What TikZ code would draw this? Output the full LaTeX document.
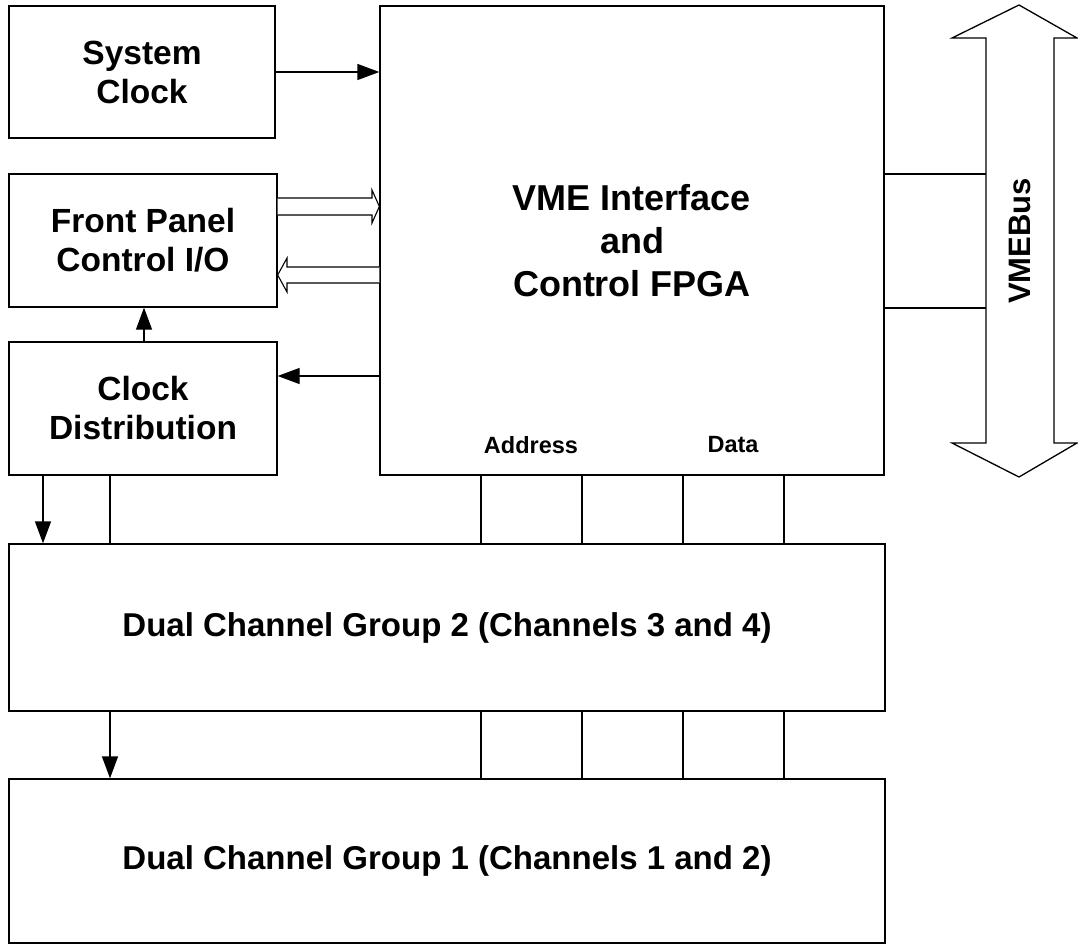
\documentclass[tikz,border=0pt]{standalone}
\usepackage{fontspec}
\setmainfont{Liberation Sans}
\usetikzlibrary{arrows.meta,calc}
\begin{document}
\begin{tikzpicture}[x=1pt,y=-1pt,
  box/.style={draw,line width=1.3pt,inner sep=0pt,align=center,
    font=\fontsize{33.5}{39}\selectfont\bfseries},
  big/.style={font=\fontsize{36}{43}\selectfont\bfseries},
  grp/.style={font=\fontsize{33}{39}\selectfont\bfseries},
  lbl/.style={font=\fontsize{31}{39}\selectfont\bfseries,inner sep=0pt},
  small/.style={font=\fontsize{23.5}{28}\selectfont\bfseries,inner sep=0pt},
  ln/.style={line width=1.3pt},
  arr/.style={line width=1.3pt,-{Triangle[length=22pt,width=16pt]}},
  hollow/.style={line width=1.1pt,fill=white,line join=miter}]
\useasboundingbox (0,0) rectangle (1078,944);
\node[box,minimum width=266pt,minimum height=132pt] (sc) at (142,72) {System\\Clock};
\node[box,minimum width=268pt,minimum height=133pt] (fp) at (143,240.5) {Front Panel\\Control I/O};
\node[box,minimum width=268pt,minimum height=133pt] (cd) at (143,408.5) {Clock\\Distribution};
\node[box,big,minimum width=504pt,minimum height=469pt] (fpga) at (632,240.5) {VME Interface\\and\\Control FPGA};
\node[box,grp,minimum width=876pt,minimum height=167pt] (g2) at (447,627.5) {Dual Channel Group 2 (Channels 3 and 4)};
\node[box,grp,minimum width=876pt,minimum height=164pt] (g1) at (447,861) {Dual Channel Group 1 (Channels 1 and 2)};
\node[small] (addr) at (531,445) {Address};
\node[small] (data) at (733,445) {Data};
% VMEBus double arrow
\draw[ln,line join=miter] (1019,5) -- (1077,38) -- (1054,38) -- (1054,443) -- (1077,443) -- (1019,477)
  -- (952,443) -- (986,443) -- (986,38) -- (952,38) -- cycle;
\node[lbl,rotate=90] (vme) at (1020,241) {VMEBus};
\coordinate (busl) at (986,0);
\coordinate (bt) at (0,174);
\coordinate (bb) at (0,308);
\draw[ln] (fpga.east |- bt) -- (busl |- bt);
\draw[ln] (fpga.east |- bb) -- (busl |- bb);
% arrows
\draw[arr] (sc.east) -- (fpga.west |- sc.east);
\coordinate (cdu) at (144,0);
\draw[arr] (cdu |- cd.north) -- (cdu |- fp.south);
\coordinate (y376) at (0,376);
\draw[arr] (fpga.west |- y376) -- (cd.east |- y376);
\coordinate (xa) at (43,0);
\coordinate (xb) at (110,0);
\draw[arr] (xa |- cd.south) -- (xa |- g2.north);
\draw[ln] (xb |- cd.south) -- (xb |- g2.north);
\draw[arr] (xb |- g2.south) -- (xb |- g1.north);
% hollow arrows
\draw[hollow] (fp.east |- 0,198) -- (372,198) -- (372,190) -- (fpga.west |- 0,206.5) -- (372,223) -- (372,215) -- (fp.east |- 0,215);
\draw[hollow] (fpga.west |- 0,267) -- (287,267) -- (287,258) -- (fp.east |- 0,275) -- (287,292) -- (287,283) -- (fpga.west |- 0,283);
% address/data bus lines
\foreach \x/\n in {481/a1,582/a2,683/a3,784/a4}{
  \coordinate (\n) at (\x,0);
  \draw[ln] (\n |- fpga.south) -- (\n |- g2.north);
  \draw[ln] (\n |- g2.south) -- (\n |- g1.north);
}
\end{tikzpicture}
\end{document}
